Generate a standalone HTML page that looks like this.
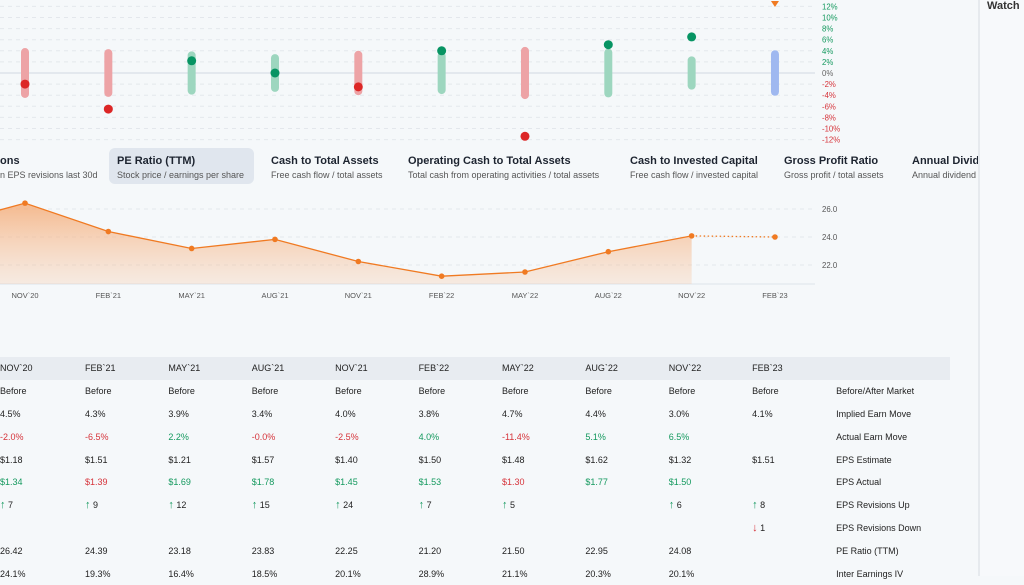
<!DOCTYPE html>
<html><head><meta charset="utf-8">
<style>
body{margin:0;width:1024px;height:576px;overflow:hidden;background:#f5f8fa;font-family:"Liberation Sans",sans-serif;color:#222;position:relative}
.side{position:absolute;left:978px;top:0;width:46px;height:576px;background:#f7f9fb;border-left:2px solid #e6eaee}
.side span{position:absolute;left:7px;top:0;font-size:11px;font-weight:bold;color:#333}
.tab{position:absolute;top:148px;height:36px;padding:0 8px;box-sizing:border-box}
.tab b{display:block;font-size:11px;color:#1d2430;margin-top:7px;white-space:nowrap}
.tab i{display:block;font-style:normal;font-size:9px;color:#555;margin-top:3px;white-space:nowrap}
.tab.sel{background:#e0e6ee;border-radius:6px}
table{position:absolute;left:0;top:357px;border-collapse:collapse;font-size:9px}
td{height:22.8px;padding:0;vertical-align:middle;white-space:nowrap}
tr.hd td{background:#e8ecf1}
.r{color:#d6333a}.g{color:#14995e}
.ar{font-size:11px;font-weight:bold}
</style></head><body>
<svg id="topchart" width="1024" height="300" style="position:absolute;left:0;top:0"></svg>
<div class="side"><span>Watch</span></div>
<div class="tab" style="left:-8px;width:110px"><b>ons</b><i>n EPS revisions last 30d</i></div>
<div class="tab sel" style="left:109px;width:145px"><b>PE Ratio (TTM)</b><i>Stock price / earnings per share</i></div>
<div class="tab" style="left:263px"><b>Cash to Total Assets</b><i>Free cash flow / total assets</i></div>
<div class="tab" style="left:400px"><b>Operating Cash to Total Assets</b><i>Total cash from operating activities / total assets</i></div>
<div class="tab" style="left:622px"><b>Cash to Invested Capital</b><i>Free cash flow / invested capital</i></div>
<div class="tab" style="left:776px"><b>Gross Profit Ratio</b><i>Gross profit / total assets</i></div>
<div class="tab" style="left:904px;width:74px;overflow:hidden"><b>Annual Divide</b><i>Annual dividend</i></div>
<svg id="pechart" width="1024" height="110" style="position:absolute;left:0;top:195px"></svg>
<table id="tbl"></table>
<script>
const quarters=["NOV`20","FEB`21","MAY`21","AUG`21","NOV`21","FEB`22","MAY`22","AUG`22","NOV`22","FEB`23"];
const implied=[4.5,4.3,3.9,3.4,4.0,3.8,4.7,4.4,3.0,4.1];
const actual=[-2.0,-6.5,2.2,-0.0,-2.5,4.0,-11.4,5.1,6.5,null];
const pePrev=24.8;
const peVals=[26.42,24.39,23.18,23.83,22.25,21.20,21.50,22.95,24.08,24.0];
const pctTicks=[12,10,8,6,4,2,0,-2,-4,-6,-8,-10,-12];
const peTicks=[26,24,22];
const NS="http://www.w3.org/2000/svg";
function mk(p,t,a){const e=document.createElementNS(NS,t);for(const k in a)e.setAttribute(k,a[k]);p.appendChild(e);return e;}
const xq=i=>25+i*83.33;
const yp=v=>73-v*5.55;
const topSvg=document.getElementById('topchart');
pctTicks.forEach(t=>{
 const l=mk(topSvg,'line',{x1:0,x2:815,y1:yp(t),y2:yp(t),stroke:t===0?'#dde3ea':'#e3e7ec','stroke-dasharray':t===0?'':'4 4','stroke-width':t===0?1.5:1});
 
 const tx=mk(topSvg,'text',{x:822,y:yp(t)+3,'font-size':7.8,fill:t>0?'#14995e':t<0?'#d6333a':'#666'});
 tx.textContent=t+'%';
});
quarters.forEach((q,i)=>{
 const a=actual[i];
 const col=a===null?'#9fb8f0':a<0?'#eda3a6':'#9dd6bf';
 const b=mk(topSvg,'rect',{x:xq(i)-4,y:yp(implied[i]),width:8,height:implied[i]*2*5.55,rx:4,fill:col});
 
 if(a!==null){const c=mk(topSvg,'circle',{cx:xq(i),cy:yp(a),r:4.5,fill:a<0?'#dc2626':'#079463'});
 }
});
const tri=mk(topSvg,'path',{d:`M${xq(9)-4} 1 L${xq(9)+4} 1 L${xq(9)} 7Z`,fill:'#f07a22'});


const peSvg=document.getElementById('pechart');
const yv=v=>14+(26-v)*14;
const base=89;
peTicks.forEach(t=>{
 const l=mk(peSvg,'line',{x1:0,x2:815,y1:yv(t),y2:yv(t),stroke:'#e3e7ec','stroke-dasharray':'4 4'});
 
 const tx=mk(peSvg,'text',{x:822,y:yv(t)+3,'font-size':7.8,fill:'#555'});tx.textContent=t.toFixed(1);
 
});
const bl=mk(peSvg,'line',{x1:0,x2:815,y1:base,y2:base,stroke:'#dde3ea'});

const defs=mk(peSvg,'defs',{});const g=mk(defs,'linearGradient',{id:'gr',x1:0,y1:0,x2:0,y2:1});
mk(g,'stop',{offset:0,'stop-color':'#f5a46a','stop-opacity':0.75});mk(g,'stop',{offset:1,'stop-color':'#f7c9a6','stop-opacity':0.3});
let pts=[[xq(-1),yv(pePrev)]];for(let i=0;i<9;i++)pts.push([xq(i),yv(peVals[i])]);
const ar=mk(peSvg,'path',{d:'M'+pts.map(p=>p.join(' ')).join(' L')+` L${xq(8)} ${base} L${xq(-1)} ${base}Z`,fill:'url(#gr)'});

const ln=mk(peSvg,'polyline',{points:pts.map(p=>p.join(',')).join(' '),fill:'none',stroke:'#f07a22','stroke-width':1.3});

const dl=mk(peSvg,'line',{x1:xq(8),y1:yv(peVals[8]),x2:xq(9),y2:yv(peVals[9]),stroke:'#f07a22','stroke-dasharray':'1.5 2.5','stroke-width':1.3});

quarters.forEach((q,i)=>{
 const c=mk(peSvg,'circle',{cx:xq(i),cy:yv(peVals[i]),r:2.8,fill:'#f07a22'});
 
 const t=mk(peSvg,'text',{x:xq(i),y:103,'font-size':7.5,fill:'#555','text-anchor':'middle'});t.textContent=q;
 
});

const rows=[
 [quarters,''],
 [["Before","Before","Before","Before","Before","Before","Before","Before","Before","Before"],"Before/After Market"],
 [["4.5%","4.3%","3.9%","3.4%","4.0%","3.8%","4.7%","4.4%","3.0%","4.1%"],"Implied Earn Move"],
 [["r-2.0%","r-6.5%","g2.2%","r-0.0%","r-2.5%","g4.0%","r-11.4%","g5.1%","g6.5%",""],"Actual Earn Move"],
 [["$1.18","$1.51","$1.21","$1.57","$1.40","$1.50","$1.48","$1.62","$1.32","$1.51"],"EPS Estimate"],
 [["g$1.34","r$1.39","g$1.69","g$1.78","g$1.45","g$1.53","r$1.30","g$1.77","g$1.50",""],"EPS Actual"],
 [["u7","u9","u12","u15","u24","u7","u5","","u6","u8"],"EPS Revisions Up"],
 [["","","","","","","","","","d1"],"EPS Revisions Down"],
 [["26.42","24.39","23.18","23.83","22.25","21.20","21.50","22.95","24.08",""],"PE Ratio (TTM)"],
 [["24.1%","19.3%","16.4%","18.5%","20.1%","28.9%","21.1%","20.3%","20.1%",""],"Inter Earnings IV"]];
const tb=document.getElementById('tbl');
rows.forEach((r,ri)=>{
 const tr=document.createElement('tr');if(ri===0)tr.className='hd';
 
 
 r[0].forEach((v,ci)=>{
  const td=document.createElement('td');td.style.width=(ci===0?85:ci<9?83.4:84)+'px';
  if(ri>1&&(v[0]==='r'||v[0]==='g')&&v.length>1){td.className=v[0];v=v.slice(1);}
  if(ri>1&&v[0]==='u'){td.innerHTML='<span class="g ar">&#8593;</span> '+v.slice(1);}
  else if(ri>1&&v[0]==='d'){td.innerHTML='<span class="r ar">&#8595;</span> '+v.slice(1);}
  else td.textContent=v;
  
  
  tr.appendChild(td);
 });
 const lt=document.createElement('td');lt.style.width='114px';lt.textContent=r[1];
 
 
 tr.appendChild(lt);tb.appendChild(tr);
});
</script>
</body></html>
